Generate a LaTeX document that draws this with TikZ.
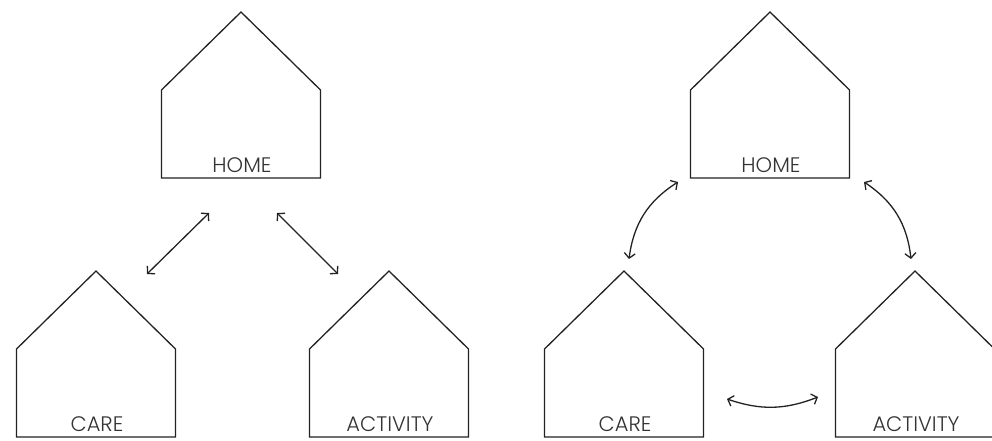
\documentclass[tikz,border=0pt]{standalone}
\usepackage{fontspec}
\setmainfont{Poppins Light}
\usetikzlibrary{arrows.meta}
\definecolor{ink}{HTML}{222222}
\definecolor{txt}{HTML}{333333}
\newcommand\myhouse[4]{%
  \draw[houseline] (#2-79.5,#3+78) -- (#2,#3) -- (#2+79.5,#3+78) -- (#2+79.5,#3+166) -- (#2-79.5,#3+166) -- cycle;
  \node[lbl] (#1) at (#2+1,#3+160) {#4};
}
\begin{document}
\begin{tikzpicture}[x=1pt,y=-1pt,
  houseline/.style={draw=ink,line width=1.3pt,line join=miter},
  lbl/.style={text=txt,font=\fontsize{21}{21}\selectfont,anchor=base,inner sep=0pt},
  link/.style={draw=ink,line width=1.3pt,{Straight Barb[length=5pt,width=11pt]}-{Straight Barb[length=5pt,width=11pt]}}]
\useasboundingbox (0,0) rectangle (992,441);
\clip (0,0) rectangle (992,441);
% left diagram
\myhouse{homeL}{241}{12}{HOME}
\myhouse{careL}{96}{271}{CARE}
\myhouse{actL}{389}{271}{ACTIVITY}
\coordinate (l1a) at (209,213);
\coordinate (l1b) at (147,274);
\coordinate (l2a) at (277,213);
\coordinate (l2b) at (338,274);
\draw[link] (l1b) -- (l1a);
\draw[link] (l2a) -- (l2b);
% right diagram
\myhouse{homeR}{770}{12}{HOME}
\myhouse{careR}{624}{271}{CARE}
\myhouse{actR}{915}{271}{ACTIVITY}
\coordinate (r1a) at (678,182);
\coordinate (r1b) at (629,259);
\coordinate (r2a) at (864,182);
\coordinate (r2b) at (911,259);
\coordinate (r3a) at (727,399);
\coordinate (r3b) at (818,397);
\draw[link] (r1a) to[bend right=25] (r1b);
\draw[link] (r2a) to[bend left=25] (r2b);
\draw[link] (r3a) to[bend right=20] (r3b);
\end{tikzpicture}
\end{document}
